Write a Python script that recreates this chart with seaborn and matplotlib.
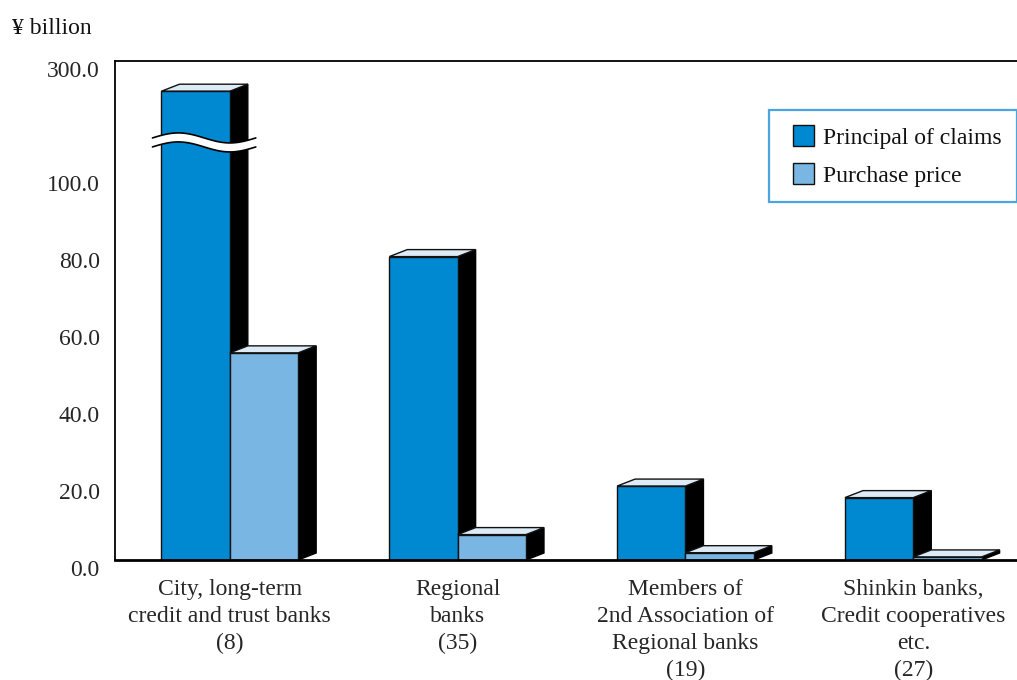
import numpy as np
import pandas as pd
import matplotlib
matplotlib.use("Agg")
import matplotlib.pyplot as plt
import seaborn as sns
from matplotlib.patches import Polygon, Patch, Rectangle
from matplotlib.legend_handler import HandlerPatch
from matplotlib.transforms import ScaledTranslation

# ---------------- data ----------------
categories = [
    "City, long-term\ncredit and trust banks\n(8)",
    "Regional\nbanks\n(35)",
    "Members of\n2nd Association of\nRegional banks\n(19)",
    "Shinkin banks,\nCredit cooperatives\netc.\n(27)",
]
series_names = ["Principal of claims", "Purchase price"]
principal = [247.0, 78.8, 19.2, 16.2]
purchase = [53.8, 6.6, 1.9, 0.8]
ytick_values = [0, 20, 40, 60, 80, 100, 300]
ytick_labels = ["0.0", "20.0", "40.0", "60.0", "80.0", "100.0", "300.0"]
unit_label = "¥ billion"

colors = ["#0088D1", "#7AB6E3"]
top_color = "#DDEBF7"

df = pd.DataFrame({
    "category": categories * 2,
    "series": [series_names[0]] * 4 + [series_names[1]] * 4,
    "value": principal + purchase,
})

# ---------------- figure ----------------
sns.set_theme(style="white")
plt.rcParams["font.family"] = ["Liberation Serif", "DejaVu Serif"]
plt.rcParams["text.color"] = "#111111"

DPI = 100
fig = plt.figure(figsize=(10.17, 6.80), dpi=DPI)
ax = fig.add_axes([115 / 1017, 1 - 560 / 680, 1 - 115 / 1017 + 0.01, (560 - 61) / 680])

sns.barplot(data=df, x="category", y="value", hue="series", palette=colors,
            width=0.6, saturation=1, edgecolor="#111111", linewidth=1.0,
            legend=False, ax=ax)
bars = list(ax.patches)

# broken axis: 0-100 linear, 100-300 compressed
K = 0.148
def fwd(v):
    v = np.asarray(v, dtype=float)
    return np.where(v <= 100, v, 100 + (v - 100) * K)
def inv(y):
    y = np.asarray(y, dtype=float)
    return np.where(y <= 100, y, 100 + (y - 100) / K)
ax.set_yscale("function", functions=(fwd, inv))
ax.set_ylim(0, 300)
ax.set_xlim(-0.504, 3.50)

ax.set_yticks(ytick_values)
ax.set_yticklabels(ytick_labels, fontsize=17)
ax.tick_params(axis="y", length=0, pad=11)
ax.tick_params(axis="x", length=0, pad=13.5)
ax.set_xticks(range(len(categories)))
ax.set_xticklabels(categories, fontsize=17, linespacing=1.37)
off = ScaledTranslation(0, -6 / 72, fig.dpi_scale_trans)
for lab in ax.get_yticklabels():
    lab.set_transform(lab.get_transform() + off)
ax.set_xlabel("")
ax.set_ylabel("")

for s in ["left", "top", "bottom"]:
    ax.spines[s].set_color("black")
ax.spines["left"].set_linewidth(1.3)
ax.spines["top"].set_linewidth(1.3)
ax.spines["bottom"].set_linewidth(2.0)
ax.spines["bottom"].set_zorder(7)
ax.spines["right"].set_visible(False)

# ---------------- 3D faces ----------------
DX, DY = 18, 7  # pixel depth
to_data = ax.transData.inverted()
n = len(categories)
for i, p in enumerate(bars):
    series_idx = i // n
    zf = 3 if series_idx == 0 else 5
    p.set_zorder(zf)
    x0, w, h = p.get_x(), p.get_width(), p.get_height()
    (X0, Y0), (X1, Y1) = ax.transData.transform([(x0, 0), (x0 + w, h)])
    side = [(X1, Y0), (X1 + DX, Y0 + DY), (X1 + DX, Y1 + DY), (X1, Y1)]
    top = [(X0, Y1), (X0 + DX, Y1 + DY), (X1 + DX, Y1 + DY), (X1, Y1)]
    ax.add_patch(Polygon(to_data.transform(side), closed=True, facecolor="black",
                         edgecolor="black", linewidth=1.0, zorder=zf - 0.5))
    ax.add_patch(Polygon(to_data.transform(top), closed=True, facecolor=top_color,
                         edgecolor="#111111", linewidth=1.0, zorder=zf - 0.4))

# ---------------- axis break on the tall bar ----------------
tall = bars[int(np.argmax(principal))]
x0, w = tall.get_x(), tall.get_width()
(BX0, BY), (BX1, _) = ax.transData.transform([(x0, 165), (x0 + w, 165)])
t = np.linspace(0, 1, 80)
xs = (BX0 - 9) + t * ((BX1 + DX + 8) - (BX0 - 9))
upper = BY + 5 * np.sin(2 * np.pi * t)
lower = upper - 9
band = np.vstack([np.column_stack([xs, upper]), np.column_stack([xs[::-1], lower[::-1]])])
ax.add_patch(Polygon(to_data.transform(band), closed=True, facecolor="white",
                     edgecolor="none", zorder=6, clip_on=False))
for yy in (upper, lower):
    pts = to_data.transform(np.column_stack([xs, yy]))
    ax.plot(pts[:, 0], pts[:, 1], color="black", lw=1.2, zorder=6.5, clip_on=False)

# ---------------- legend ----------------
def square_right(legend, orig_handle, xdescent, ydescent, width, height, fontsize):
    return Rectangle((-xdescent + width - height, -ydescent), height, height)

handles = [Patch(facecolor=c, edgecolor="#111111", linewidth=1.0) for c in colors]
leg = fig.legend(handles, series_names, loc="upper left",
                 bbox_to_anchor=(769 / 1017, 1 - 110 / 680), fontsize=17,
                 frameon=True, fancybox=False, handlelength=1.25, handleheight=1.0,
                 handletextpad=0.38, labelspacing=0.6, borderpad=0.65,
                 borderaxespad=0,
                 handler_map={Patch: HandlerPatch(patch_func=square_right)})
leg.get_frame().set_edgecolor("#1E90D8")
leg.get_frame().set_linewidth(1.6)

fig.text(12 / 1017, 1 - 28 / 680, unit_label, fontsize=17, ha="left", va="center")

fig.savefig("out.png", dpi=DPI, facecolor="white")
